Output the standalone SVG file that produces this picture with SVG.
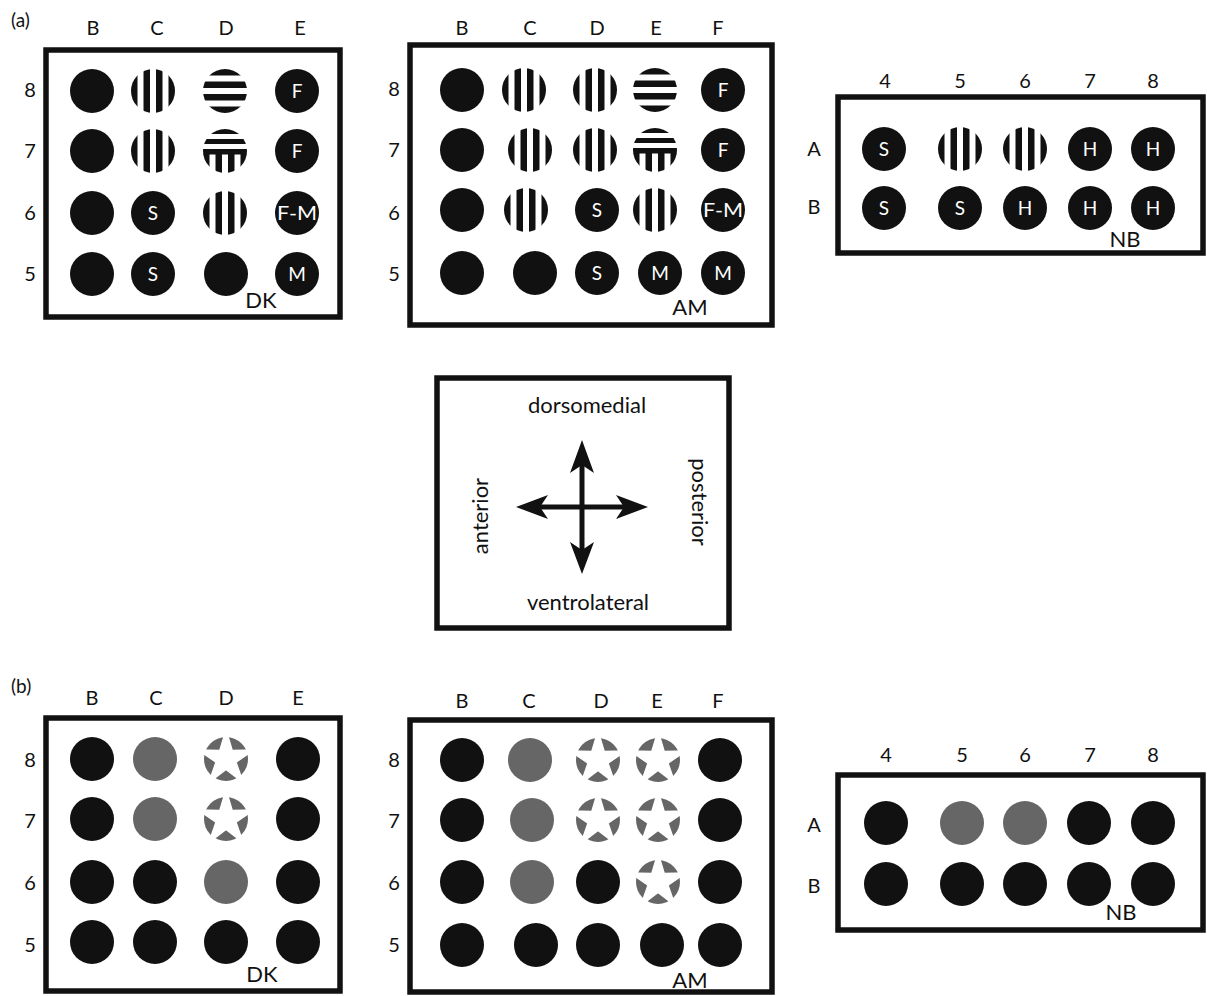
<svg xmlns="http://www.w3.org/2000/svg" width="1207" height="996" viewBox="0 0 1207 996">
<style>
text{font-family:Lato,"Open Sans","Liberation Sans",sans-serif;fill:#111;text-anchor:middle}
.lb{font-size:20px}
.in{font-size:19px;fill:#fff}
.tg{font-size:22px}
.pl{font-size:19px;text-anchor:start}
.box{fill:none;stroke:#111;stroke-width:5.5}
.k{fill:#111}
.g{fill:#666}
.cmp{font-size:22px}
</style>
<defs>
<clipPath id="cc"><circle r="22"/></clipPath>
<g id="vs" clip-path="url(#cc)" fill="#111">
<rect x="-22" y="-22" width="6.5" height="44"/>
<rect x="-9.5" y="-22" width="6.5" height="44"/>
<rect x="3" y="-22" width="6.5" height="44"/>
<rect x="15.5" y="-22" width="6.5" height="44"/>
</g>
<g id="hs" clip-path="url(#cc)" fill="#111">
<rect y="-22" x="-22" height="6.5" width="44"/>
<rect y="-9.5" x="-22" height="6.5" width="44"/>
<rect y="3" x="-22" height="6.5" width="44"/>
<rect y="15.5" x="-22" height="6.5" width="44"/>
</g>
<g id="mx" clip-path="url(#cc)" fill="#111">
<rect x="-22" y="-22" width="44" height="5"/>
<rect x="-22" y="-12" width="44" height="5"/>
<rect x="-22" y="-2" width="44" height="5.5"/>
<rect x="-22" y="3" width="6.5" height="19"/>
<rect x="-9.5" y="3" width="6.5" height="19"/>
<rect x="3" y="3" width="6.5" height="19"/>
<rect x="15.5" y="3" width="6.5" height="19"/>
</g>
<g id="st">
<circle r="22" fill="#666"/>
<polygon fill="#fff" stroke="#fff" stroke-width="1.5" points="0,-29 6.17,-8.49 27.58,-8.96 9.99,3.24 17.05,23.46 0,10.5 -17.05,23.46 -9.99,3.24 -27.58,-8.96 -6.17,-8.49"/>
</g>
</defs>

<text class="pl" x="11" y="27">(a)</text>
<text class="pl" x="11" y="693">(b)</text>

<!-- Panel a DK -->
<g id="a-DK">
<rect class="box" x="46" y="50" width="294" height="267"/>
<g class="lb"><text x="93" y="35">B</text><text x="157" y="35">C</text><text x="226" y="35">D</text><text x="300" y="35">E</text>
<text x="30" y="97">8</text><text x="30" y="158">7</text><text x="30" y="220">6</text><text x="30" y="281">5</text></g>
<circle class="k" cx="92" cy="91" r="22"/><use href="#vs" x="153" y="91"/><use href="#hs" x="225" y="91"/><circle class="k" cx="297" cy="91" r="22"/><text class="in" x="297" y="98">F</text>
<circle class="k" cx="92" cy="151" r="22"/><use href="#vs" x="153" y="151"/><use href="#mx" x="225" y="151"/><circle class="k" cx="297" cy="151" r="22"/><text class="in" x="297" y="158">F</text>
<circle class="k" cx="92" cy="213" r="22"/><circle class="k" cx="153" cy="213" r="22"/><text class="in" x="153" y="220">S</text><use href="#vs" x="225" y="213"/><circle class="k" cx="297" cy="213" r="22"/><text class="in" x="297" y="220" textLength="40" lengthAdjust="spacingAndGlyphs">F-M</text>
<circle class="k" cx="92" cy="274" r="22"/><circle class="k" cx="153" cy="274" r="22"/><text class="in" x="153" y="281">S</text><circle class="k" cx="226" cy="274" r="22"/><circle class="k" cx="297" cy="274" r="22"/><text class="in" x="297" y="281">M</text>
<text class="tg" x="261" y="308">DK</text>
</g>

<!-- Panel a AM -->
<g id="a-AM">
<rect class="box" x="410" y="45" width="362" height="280"/>
<g class="lb"><text x="462" y="35">B</text><text x="530" y="35">C</text><text x="597" y="35">D</text><text x="656" y="35">E</text><text x="718" y="35">F</text>
<text x="394" y="96">8</text><text x="394" y="157">7</text><text x="394" y="220">6</text><text x="394" y="281">5</text></g>
<circle class="k" cx="462" cy="90" r="22"/><use href="#vs" x="524" y="90"/><use href="#vs" x="595" y="90"/><use href="#hs" x="655" y="90"/><circle class="k" cx="723" cy="90" r="22"/><text class="in" x="723" y="97">F</text>
<circle class="k" cx="462" cy="150" r="22"/><use href="#vs" x="530" y="150"/><use href="#vs" x="595" y="150"/><use href="#mx" x="655" y="150"/><circle class="k" cx="723" cy="150" r="22"/><text class="in" x="723" y="157">F</text>
<circle class="k" cx="462" cy="210" r="22"/><use href="#vs" x="526" y="210"/><circle class="k" cx="597" cy="210" r="22"/><text class="in" x="597" y="217">S</text><use href="#vs" x="655" y="210"/><circle class="k" cx="723" cy="210" r="22"/><text class="in" x="723" y="217" textLength="40" lengthAdjust="spacingAndGlyphs">F-M</text>
<circle class="k" cx="462" cy="273" r="22"/><circle class="k" cx="535" cy="273" r="22"/><circle class="k" cx="597" cy="273" r="22"/><text class="in" x="597" y="280">S</text><circle class="k" cx="660" cy="273" r="22"/><text class="in" x="660" y="280">M</text><circle class="k" cx="723" cy="273" r="22"/><text class="in" x="723" y="280">M</text>
<text class="tg" x="690" y="315">AM</text>
</g>

<!-- Panel a NB -->
<g id="a-NB">
<rect class="box" x="838" y="97" width="365" height="156"/>
<g class="lb"><text x="885" y="88">4</text><text x="960" y="88">5</text><text x="1025" y="88">6</text><text x="1090" y="88">7</text><text x="1153" y="88">8</text>
<text x="814" y="156">A</text><text x="814" y="214">B</text></g>
<circle class="k" cx="884" cy="149" r="22"/><text class="in" x="884" y="156">S</text><use href="#vs" x="960" y="149"/><use href="#vs" x="1025" y="149"/><circle class="k" cx="1090" cy="149" r="22"/><text class="in" x="1090" y="156">H</text><circle class="k" cx="1153" cy="149" r="22"/><text class="in" x="1153" y="156">H</text>
<circle class="k" cx="884" cy="208" r="22"/><text class="in" x="884" y="215">S</text><circle class="k" cx="960" cy="208" r="22"/><text class="in" x="960" y="215">S</text><circle class="k" cx="1025" cy="208" r="22"/><text class="in" x="1025" y="215">H</text><circle class="k" cx="1090" cy="208" r="22"/><text class="in" x="1090" y="215">H</text><circle class="k" cx="1153" cy="208" r="22"/><text class="in" x="1153" y="215">H</text>
<text class="tg" x="1125" y="247">NB</text>
</g>

<!-- Compass -->
<g id="compass">
<rect class="box" x="437" y="378" width="292" height="250"/>
<text class="cmp" x="587" y="413">dorsomedial</text>
<text class="cmp" x="588" y="610">ventrolateral</text>
<text class="cmp" transform="translate(488,516) rotate(-90)">anterior</text>
<text class="cmp" transform="translate(692,502) rotate(90)">posterior</text>
</g>
<g id="connectors">
<g stroke="#111" stroke-width="5" fill="none"><line x1="582" y1="462" x2="582" y2="552"/><line x1="538" y1="507" x2="626" y2="507"/></g>
<g fill="#111">
<polygon points="582,440 594,473 582,465 570,473"/>
<polygon points="582,574 594,542 582,550 570,542"/>
<polygon points="516,507 548,495 540,507 548,519"/>
<polygon points="648,507 616,495 624,507 616,519"/>
</g>
</g>

<!-- Panel b DK -->
<g id="b-DK">
<rect class="box" x="46" y="718" width="294" height="273"/>
<g class="lb"><text x="92" y="705">B</text><text x="156" y="705">C</text><text x="226" y="705">D</text><text x="298" y="705">E</text>
<text x="30" y="767">8</text><text x="30" y="828">7</text><text x="30" y="890">6</text><text x="30" y="952">5</text></g>
<circle class="k" cx="92" cy="759" r="22"/><circle class="g" cx="155" cy="759" r="22"/><use href="#st" x="226" y="759"/><circle class="k" cx="298" cy="759" r="22"/>
<circle class="k" cx="92" cy="819" r="22"/><circle class="g" cx="155" cy="819" r="22"/><use href="#st" x="226" y="819"/><circle class="k" cx="298" cy="819" r="22"/>
<circle class="k" cx="92" cy="882" r="22"/><circle class="k" cx="155" cy="882" r="22"/><circle class="g" cx="226" cy="882" r="22"/><circle class="k" cx="298" cy="882" r="22"/>
<circle class="k" cx="92" cy="942" r="22"/><circle class="k" cx="155" cy="942" r="22"/><circle class="k" cx="226" cy="942" r="22"/><circle class="k" cx="298" cy="942" r="22"/>
<text class="tg" x="262" y="982">DK</text>
</g>

<!-- Panel b AM -->
<g id="b-AM">
<rect class="box" x="410" y="720" width="362" height="272"/>
<g class="lb"><text x="462" y="708">B</text><text x="529" y="708">C</text><text x="601" y="708">D</text><text x="657" y="708">E</text><text x="718" y="708">F</text>
<text x="394" y="767">8</text><text x="394" y="828">7</text><text x="394" y="890">6</text><text x="394" y="952">5</text></g>
<circle class="k" cx="462" cy="760" r="22"/><circle class="g" cx="530" cy="760" r="22"/><use href="#st" x="598" y="760"/><use href="#st" x="658" y="760"/><circle class="k" cx="720" cy="760" r="22"/>
<circle class="k" cx="462" cy="820" r="22"/><circle class="g" cx="532" cy="820" r="22"/><use href="#st" x="598" y="820"/><use href="#st" x="658" y="820"/><circle class="k" cx="720" cy="820" r="22"/>
<circle class="k" cx="462" cy="882" r="22"/><circle class="g" cx="532" cy="882" r="22"/><circle class="k" cx="598" cy="882" r="22"/><use href="#st" x="658" y="882"/><circle class="k" cx="720" cy="882" r="22"/>
<circle class="k" cx="462" cy="945" r="22"/><circle class="k" cx="536" cy="945" r="22"/><circle class="k" cx="598" cy="945" r="22"/><circle class="k" cx="662" cy="945" r="22"/><circle class="k" cx="720" cy="945" r="22"/>
<text class="tg" x="690" y="988">AM</text>
</g>

<!-- Panel b NB -->
<g id="b-NB">
<rect class="box" x="838" y="775" width="365" height="155"/>
<g class="lb"><text x="886" y="762">4</text><text x="962" y="762">5</text><text x="1025" y="762">6</text><text x="1090" y="762">7</text><text x="1153" y="762">8</text>
<text x="814" y="832">A</text><text x="814" y="893">B</text></g>
<circle class="k" cx="886" cy="823" r="22"/><circle class="g" cx="962" cy="823" r="22"/><circle class="g" cx="1025" cy="823" r="22"/><circle class="k" cx="1089" cy="823" r="22"/><circle class="k" cx="1153" cy="823" r="22"/>
<circle class="k" cx="886" cy="884" r="22"/><circle class="k" cx="962" cy="884" r="22"/><circle class="k" cx="1025" cy="884" r="22"/><circle class="k" cx="1089" cy="884" r="22"/><circle class="k" cx="1153" cy="884" r="22"/>
<text class="tg" x="1121" y="920">NB</text>
</g>
</svg>
